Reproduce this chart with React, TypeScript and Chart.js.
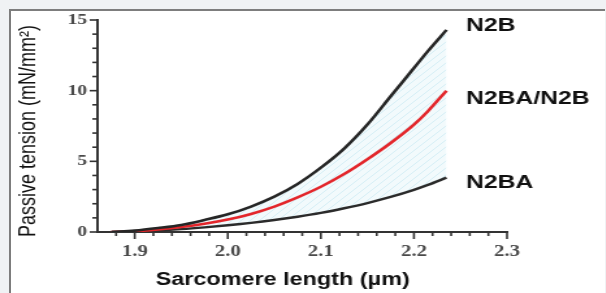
import React, { useEffect, useRef } from "react";
import { Chart, registerables } from "chart.js";
Chart.register(...registerables);

// Sarcomere length (µm)
const sarcomereLength = [1.875, 1.9, 1.925, 1.95, 1.975, 2.0, 2.025, 2.05, 2.075, 2.1, 2.125, 2.15, 2.175, 2.2, 2.215, 2.235];
// Passive tension (mN/mm²)
const n2b = [0, 0.1, 0.28, 0.5, 0.85, 1.25, 1.8, 2.5, 3.4, 4.55, 5.9, 7.6, 9.6, 11.6, 12.8, 14.3];
const n2baN2b = [0, 0.05, 0.18, 0.35, 0.58, 0.88, 1.28, 1.8, 2.45, 3.2, 4.1, 5.15, 6.3, 7.6, 8.55, 10.0];
const n2ba = [0, 0.03, 0.1, 0.2, 0.33, 0.48, 0.65, 0.85, 1.08, 1.35, 1.68, 2.05, 2.48, 2.98, 3.33, 3.85];

const seriesNames = ["N2B", "N2BA/N2B", "N2BA"];
const xTitle = "Sarcomere length (µm)";
const yTitle = "Passive tension (mN/mm²)";
const xMin = 1.86, xMax = 2.3, xStep = 0.02;
const yMin = 0, yMax = 15, yStep = 1;

const STRETCH = 1.3;
const CW = Math.round(606 / STRETCH);
const CH = 293;

const isMajorX = (v: number) => Math.round(v * 100) % 10 === 0;
const isMajorY = (v: number) => Math.round(v) % 5 === 0;

const labelDy = [-4, 8, 5];

const decorPlugin = {
  id: "decor",
  afterDraw(chart: any) {
    const ctx = chart.ctx;
    const xs = chart.scales.x;
    const ys = chart.scales.y;
    const a = chart.chartArea;
    ctx.save();
    ctx.strokeStyle = "#333";
    ctx.lineWidth = 1.6;
    xs.ticks.forEach((t: any) => {
      if (t.value < xMin + 0.01) return;
      const px = xs.getPixelForValue(t.value);
      ctx.beginPath();
      ctx.moveTo(px, a.bottom);
      ctx.lineTo(px, a.bottom + (isMajorX(t.value) ? 7 : 4));
      ctx.stroke();
    });
    ys.ticks.forEach((t: any) => {
      const py = ys.getPixelForValue(t.value);
      ctx.beginPath();
      ctx.moveTo(a.left, py);
      ctx.lineTo(a.left - (isMajorY(t.value) ? 6 : 4), py);
      ctx.stroke();
    });
    // series labels
    ctx.fillStyle = "#111";
    ctx.font = "bold 19px 'Liberation Sans', Arial, sans-serif";
    ctx.textAlign = "left";
    ctx.textBaseline = "middle";
    chart.data.datasets.forEach((ds: any, i: number) => {
      const meta = chart.getDatasetMeta(i);
      const pt = meta.data[meta.data.length - 1];
      ctx.fillText(ds.label, pt.x + 15, pt.y + labelDy[i]);
    });
    // axis titles
    ctx.font = "bold 18px 'Liberation Sans', Arial, sans-serif";
    ctx.textAlign = "center";
    ctx.fillText(xTitle, (a.left + a.right) / 2 - 15, 280);
    ctx.save();
    ctx.translate(22, (a.top + a.bottom) / 2 + 5);
    ctx.rotate(-Math.PI / 2);
    ctx.font = "18px 'Liberation Sans', Arial, sans-serif";
    ctx.fillText(yTitle, 0, 0);
    ctx.restore();
    ctx.restore();
  },
};

export default function App() {
  const ref = useRef<HTMLCanvasElement | null>(null);
  useEffect(() => {
    const canvas = ref.current;
    if (!canvas) return;
    const pc = document.createElement("canvas");
    pc.width = 7;
    pc.height = 7;
    const p = pc.getContext("2d")!;
    p.fillStyle = "#f2fafc";
    p.fillRect(0, 0, 7, 7);
    p.strokeStyle = "#d6eff6";
    p.lineWidth = 1;
    p.beginPath();
    p.moveTo(0, 7);
    p.lineTo(7, 0);
    p.stroke();
    const pattern = canvas.getContext("2d")!.createPattern(pc, "repeat");

    const pts = (ys: number[]) => sarcomereLength.map((x, i) => ({ x, y: ys[i] }));
    const chart = new Chart(canvas, {
      type: "line",
      data: {
        datasets: [
          { label: seriesNames[0], data: pts(n2b), borderColor: "#262626", borderWidth: 2.6, pointRadius: 0, fill: "+2", backgroundColor: pattern as any, cubicInterpolationMode: "monotone" },
          { label: seriesNames[1], data: pts(n2baN2b), borderColor: "#e3262b", borderWidth: 2.6, pointRadius: 0, fill: false, cubicInterpolationMode: "monotone" },
          { label: seriesNames[2], data: pts(n2ba), borderColor: "#2b2b2b", borderWidth: 2.4, pointRadius: 0, fill: false, cubicInterpolationMode: "monotone" },
        ],
      },
      options: {
        responsive: false,
        maintainAspectRatio: false,
        animation: false,
        layout: { padding: { top: 20, right: CW - 390, left: 0, bottom: 0 } },
        plugins: {
          legend: { display: false },
          tooltip: { enabled: false },
          filler: { drawTime: "beforeDatasetsDraw" },
        },
        scales: {
          x: {
            type: "linear",
            min: xMin,
            max: xMax,
            afterFit: (s: any) => { s.height = CH - 232; },
            ticks: {
              stepSize: xStep,
              autoSkip: false,
              maxRotation: 0,
              padding: 10,
              color: "#4a4a4a",
              font: { family: "'Liberation Serif', serif", size: 16, weight: "bold" },
              callback: (v: any) => (isMajorX(Number(v)) ? Number(v).toFixed(1) : ""),
            },
            grid: { display: true, drawOnChartArea: false, drawTicks: false },
            border: { display: true, color: "#333", width: 2 },
          },
          y: {
            min: yMin,
            max: yMax,
            afterFit: (s: any) => { s.width = 75; },
            ticks: {
              stepSize: yStep,
              autoSkip: false,
              padding: 8,
              color: "#4a4a4a",
              font: { family: "'Liberation Serif', serif", size: 15, weight: "bold" },
              callback: (v: any) => (isMajorY(Number(v)) ? String(Math.round(Number(v))) : ""),
            },
            grid: { display: true, drawOnChartArea: false, drawTicks: false },
            border: { display: true, color: "#333", width: 2 },
          },
        },
      },
      plugins: [decorPlugin],
    } as any);
    return () => chart.destroy();
  }, []);

  return (
    <div style={{ position: "fixed", left: 0, top: 0, width: 606, height: 293, overflow: "hidden", background: "#f0f2f4" }}>
      <div style={{ position: "absolute", left: 9, top: 9, width: 596, height: 300, background: "#fff", borderLeft: "2.5px solid #7d7d7d", borderTop: "2.5px solid #7d7d7d", boxSizing: "border-box" }} />
      <div style={{ position: "absolute", left: 0, top: 0, width: CW, height: CH, transform: `scaleX(${STRETCH})`, transformOrigin: "0 0" }}>
        <canvas ref={ref} width={CW} height={CH} style={{ display: "block" }} />
      </div>
    </div>
  );
}
